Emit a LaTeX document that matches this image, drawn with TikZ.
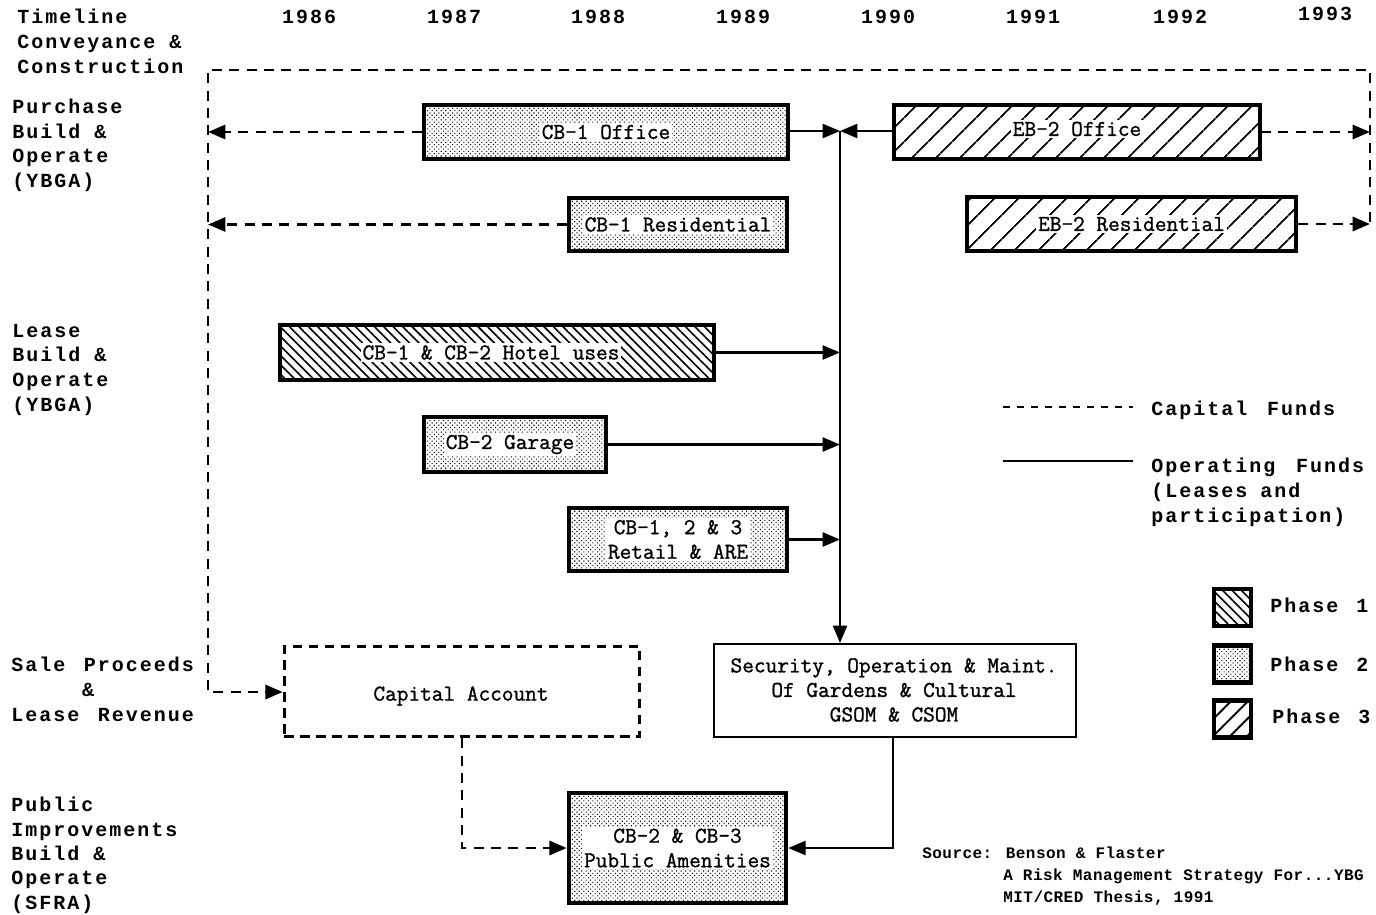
\documentclass[tikz,border=0pt]{standalone}
\usepackage{fontspec}
\usetikzlibrary{arrows.meta,patterns.meta}
\newfontfamily\labfont[LetterSpace=10]{Liberation Mono}
\newfontfamily\srcfont[LetterSpace=3]{Liberation Mono}
\newfontfamily\boxfont[FakeBold=1.2]{Latin Modern Mono}
\begin{document}
\begin{tikzpicture}[x=0.75pt,y=-0.75pt,
  lab/.style={font=\labfont\bfseries\fontsize{15}{18}\selectfont, anchor=base west, inner sep=0},
  yr/.style={font=\labfont\bfseries\fontsize{15}{18}\selectfont, anchor=base, inner sep=0},
  src/.style={font=\srcfont\bfseries\fontsize{12}{14}\selectfont, anchor=base west, inner sep=0},
  bx/.style={draw, line width=3.4pt, inner sep=0},
  ph1/.style={bx, pattern={Lines[angle=-45,distance=5pt,line width=1.2pt]}},
  ph2/.style={bx, pattern={Dots[radius=0.55pt,distance=2.4pt,angle=45]}},
  ph3/.style={bx, pattern={Lines[angle=45,distance=13pt,line width=1.4pt]}},
  txt/.style={font=\boxfont\fontsize{17}{18.4}\selectfont, fill=white, inner sep=1.5pt, align=center},
  plaintxt/.style={font=\boxfont\fontsize{17}{18.4}\selectfont, inner sep=0, align=center},
  dsh/.style={line width=2.2pt, dash pattern=on 7.5pt off 5.5pt},
  sol/.style={line width=1.8pt},
  tip/.style={-{Triangle[length=13pt,width=10.5pt]}}]
\fill[white] (0,0) rectangle (1376,914);
\useasboundingbox (0,0) rectangle (1376,914);

% --- left labels
\node[lab] (l1) at (17,23) {Timeline};
\node[lab] (l2) at (17,48) {Conveyance \&};
\node[lab] (l3) at (17,73) {Construction};
\node[lab] (p1) at (12,113) {Purchase};
\node[lab] (p2) at (12,138) {Build \&};
\node[lab] (p3) at (12,162) {Operate};
\node[lab] (p4) at (12,187) {(YBGA)};
\node[lab] (q1) at (12,337) {Lease};
\node[lab] (q2) at (12,361) {Build \&};
\node[lab] (q3) at (12,386) {Operate};
\node[lab] (q4) at (12,411) {(YBGA)};
\node[lab] (s1) at (11,671) {\makebox[137pt][s]{Sale Proceeds}};
\node[yr]  (s2) at (88,696) {\&};
\node[lab] (s3) at (11,721) {\makebox[137pt][s]{Lease Revenue}};
\node[lab] (u1) at (11,811) {Public};
\node[lab] (u2) at (11,836) {Improvements};
\node[lab] (u3) at (11,860) {Build \&};
\node[lab] (u4) at (11,884) {Operate};
\node[lab] (u5) at (11,909) {(SFRA)};

% --- years
\node[yr] (y86) at (309,23) {1986};
\node[yr] (y87) at (454,23) {1987};
\node[yr] (y88) at (598,23) {1988};
\node[yr] (y89) at (743,23) {1989};
\node[yr] (y90) at (888,23) {1990};
\node[yr] (y91) at (1033,23) {1991};
\node[yr] (y92) at (1180,23) {1992};
\node[yr] (y93) at (1325,20) {1993};

% --- boxes
\node[ph2, minimum width=273pt, minimum height=40.5pt] (cb1o) at (606,132) {};
\node[txt] (tcb1o) at (cb1o) {CB-1 Office};
\node[ph2, minimum width=163.5pt, minimum height=39.75pt] (cb1r) at (678,224.5) {};
\node[txt] (tcb1r) at (cb1r) {CB-1 Residential};
\node[ph3, minimum width=274.5pt, minimum height=40.5pt] (eb2o) at (1077,132) {};
\node[txt] (teb2o) at (1077,129) {EB-2 Office};
\node[ph3, minimum width=246.75pt, minimum height=40.5pt] (eb2r) at (1131.5,224) {};
\node[txt] (teb2r) at (eb2r) {EB-2 Residential};
\node[ph1, minimum width=325.5pt, minimum height=41.25pt] (hotel) at (497,352.5) {};
\node[txt] (thotel) at (491,352.5) {CB-1 \& CB-2 Hotel uses};
\node[ph2, minimum width=136.5pt, minimum height=41.25pt] (garage) at (515,444.5) {};
\node[txt] (tgarage) at (510,444.5) {CB-2 Garage};
\node[ph2, minimum width=163.5pt, minimum height=47.25pt] (retail) at (678,539.5) {};
\node[txt] (tretail) at (retail) {CB-1, 2 \& 3\\Retail \& ARE};
\node[ph2, minimum width=162.75pt, minimum height=82.5pt] (pub) at (677.5,848) {};
\node[txt] (tpub) at (pub) {CB-2 \& CB-3\\Public Amenities};
\node[draw, line width=1.9pt, minimum width=271.2pt, minimum height=69.45pt, inner sep=0] (sec) at (895,690.5) {};
\node[plaintxt] (tsec) at (894,690) {Security, Operation \& Maint.\\Of Gardens \& Cultural\\GSOM \& CSOM};
\node[draw, dsh, dash pattern=on 7pt off 5pt, minimum width=266.7pt, minimum height=67.95pt, inner sep=0] (cap) at (462,691.5) {};
\node[plaintxt] (tcap) at (461,696) {Capital Account};

% --- frame coordinates
\coordinate (fTL) at (208,70);
\coordinate (fTR) at (1370,70);
\coordinate (fBR) at (1370,222);
\coordinate (fBL) at (208,692);
\coordinate (hub) at (840,131);

% --- capital funds (dashed)
\draw[dsh,tip] (fBR) -- (fTR) -- (fTL) -- (fBL) -- (cap.west |- fBL);
\draw[dsh,tip] (cb1o.west) -- (cb1o.west -| fTL);
\draw[dsh,tip] (cb1r.west) -- (cb1r.west -| fTL);
\draw[dsh,tip] (eb2o.east) -- (eb2o.east -| fTR);
\draw[dsh,tip] (eb2r.east) -- (eb2r.east -| fTR);
\draw[dsh,tip] (cap.south) -- (cap.south |- pub.west) -- (pub.west);

% --- operating funds (solid)
\draw[sol,tip] (cb1o.east |- hub) -- (hub);
\draw[sol,tip] (eb2o.west |- hub) -- (hub);
\draw[sol,tip] (hub) -- (hub |- sec.north);
\draw[sol,tip] (hotel.east) -- (hotel.east -| hub);
\draw[sol,tip] (garage.east) -- (garage.east -| hub);
\draw[sol,tip] (retail.east) -- (retail.east -| hub);
\draw[sol,tip] (sec.south -| 893,0) -- (893,848) -- (pub.east);

% --- legend
\coordinate (ld1) at (1003,407);
\coordinate (ld2) at (1133,407);
\coordinate (ls1) at (1003,461);
\coordinate (ls2) at (1133,461);
\draw[line width=1.6pt, dash pattern=on 5.5pt off 5pt] (ld1) -- (ld2);
\draw[line width=1.3pt] (ls1) -- (ls2);
\node[lab] (lg1) at (1151,415) {\makebox[138pt][s]{Capital Funds}};
\node[lab] (lg2) at (1151,472) {\makebox[159.75pt][s]{Operating Funds}};
\node[lab] (lg3) at (1151,497) {\makebox[111.75pt][s]{(Leases and}};
\node[lab] (lg4) at (1151,522) {participation)};

\node[ph1, minimum width=27.75pt, minimum height=27.75pt] (k1) at (1232.5,607.5) {};
\node[ph2, minimum width=27.75pt, minimum height=27.75pt] (k2) at (1232.5,664) {};
\node[ph3, pattern={Lines[angle=45,distance=9pt,line width=1.4pt]}, minimum width=27.75pt, minimum height=27.75pt] (k3) at (1232.5,719) {};
\node[lab] (kl1) at (1270,612) {\makebox[73.5pt][s]{Phase 1}};
\node[lab] (kl2) at (1270,671) {\makebox[73.5pt][s]{Phase 2}};
\node[lab] (kl3) at (1272,723) {\makebox[73.5pt][s]{Phase 3}};

% --- source
\node[src] (sr1) at (922,858) {Source: Benson \& Flaster};
\node[src] (sr2) at (1003,880) {A Risk Management Strategy For...YBG};
\node[src] (sr3) at (1003,902) {MIT/CRED Thesis, 1991};
\end{tikzpicture}
\end{document}
